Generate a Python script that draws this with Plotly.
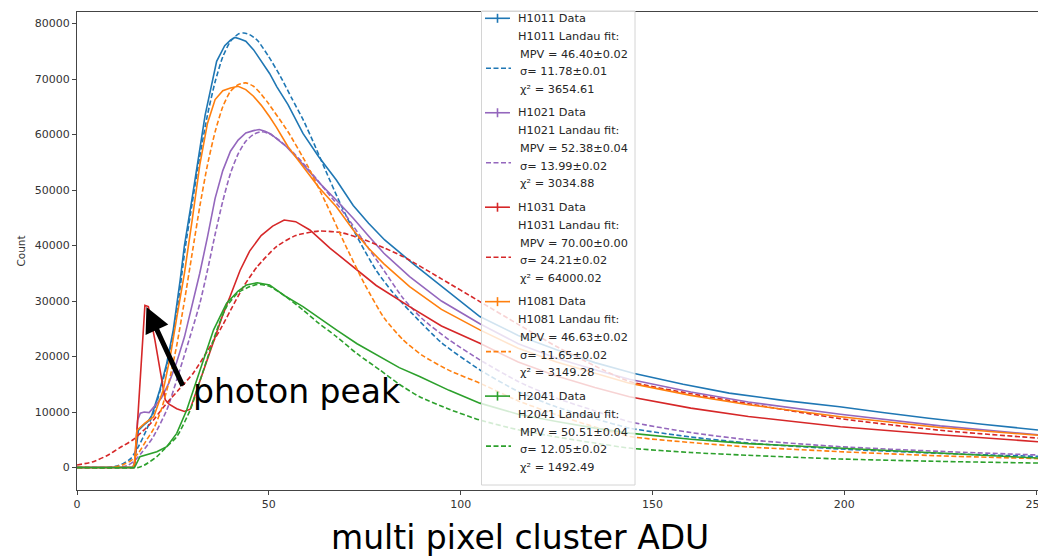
import plotly.graph_objects as go

# ---------------- data ----------------
# H1011 (blue)
h1011_x = [0, 14.6, 15.0, 16.0, 17.3, 18.5, 19.5, 20.5, 21.6, 23.4, 25.1, 26.9, 28.0, 30.0, 31.0, 33.4, 36.4, 38.5, 40.0, 41.2, 42.5, 44.0, 46.0, 48.0, 50.2, 52.1, 55.0, 58.9, 63.0, 67.6, 72.0, 76.0, 80.2, 87.5, 97.2, 105.0, 115.0, 125.0, 135.0, 145.0, 158.0, 170.0, 184.0, 198.8, 210.0, 222.0, 236.0, 250.5]
h1011_y = [0, 0, 900, 6700, 7600, 8300, 9400, 11500, 14000, 18800, 24800, 33800, 40000, 48500, 53000, 63500, 73200, 76000, 77000, 77500, 77200, 76800, 75300, 73200, 71000, 68600, 65400, 60200, 56000, 51800, 47200, 44000, 41000, 36800, 31400, 27200, 23800, 21200, 18900, 17000, 15000, 13400, 12100, 10950, 9900, 8860, 7800, 6760]
h1011_fx = [0, 8, 10, 12, 14, 16, 18, 20, 21.2, 22.5, 23.8, 26, 28.2, 30, 32, 34, 36, 38, 40, 42, 43.5, 45, 47, 50, 53, 56, 59, 62, 65, 68, 71, 74, 78, 82, 87, 95, 105, 115, 125, 135, 144, 160, 175, 199, 225, 250.5]
h1011_fy = [0, 0, 200, 700, 1600, 3750, 6600, 10000, 12700, 16000, 19400, 27800, 39500, 47500, 56000, 63500, 69500, 74000, 76800, 78100, 78300, 78000, 77000, 74000, 70500, 66500, 62600, 58000, 53200, 48500, 44200, 40300, 35500, 31800, 28000, 22500, 17600, 13700, 10900, 8800, 7100, 5500, 4400, 3330, 2550, 2000]

# H1021 (purple)
h1021_x = [0, 14.6, 15.0, 15.8, 16.5, 17.5, 18.8, 20.5, 22.0, 24.0, 26.0, 28.0, 30.0, 32.0, 34.0, 36.0, 38.0, 40.0, 42.0, 44.0, 46.0, 47.5, 49.0, 50.5, 52.5, 54.6, 58.0, 63.3, 68.0, 72.0, 76.0, 80.0, 86.7, 95.0, 105.0, 115.0, 125.0, 135.0, 144.0, 160.0, 175.0, 199.0, 225.0, 250.5]
h1021_y = [0, 0, 1000, 8500, 9800, 10000, 9900, 11200, 12500, 15300, 19000, 23500, 29000, 35000, 41500, 48500, 53500, 57000, 59000, 60300, 60700, 60900, 60600, 60100, 59000, 57800, 55300, 51200, 47900, 44900, 41700, 38600, 34400, 30000, 25900, 22300, 19700, 17600, 15900, 13600, 11800, 9600, 7500, 5900]
h1021_fx = [0, 10, 13, 15, 17, 19.9, 23.4, 26.8, 30, 32, 34, 36, 38, 40, 42, 44, 46, 48, 50, 53, 56, 60, 65, 70, 75, 80, 85, 90, 97, 105, 115, 125, 135, 144, 160, 175, 199, 225, 250.5]
h1021_fy = [0, 0, 300, 1200, 2800, 5550, 10360, 17570, 24800, 29500, 35500, 42000, 48000, 53000, 56500, 58800, 60000, 60500, 60200, 58800, 57000, 54000, 49800, 45500, 40500, 35500, 30500, 26800, 23000, 19400, 15500, 12500, 10200, 8250, 6300, 5000, 3750, 2900, 2250]

# H1031 (red)
h1031_x = [0, 14.8, 15.1, 17.7, 18.6, 20.3, 22.1, 23.0, 24.0, 26.0, 28.0, 29.5, 31.0, 33.0, 35.5, 38.0, 40.0, 42.5, 45.0, 48.0, 51.0, 54.0, 57.0, 60.7, 66.0, 71.9, 78.0, 86.7, 95.0, 105.0, 115.0, 125.0, 135.0, 144.0, 160.0, 175.0, 199.0, 225.0, 250.5]
h1031_y = [0, 0, 750, 29200, 29000, 23000, 15800, 12200, 11400, 10600, 10100, 10500, 13500, 17500, 22500, 27500, 31000, 35500, 39000, 41800, 43500, 44600, 44300, 42800, 39500, 36200, 32800, 29000, 25500, 22400, 19000, 16500, 14400, 12750, 10700, 9200, 7350, 5900, 4650]
h1031_fx = [0, 4, 8, 11, 14.6, 19, 23.4, 26.5, 30.3, 34, 37.3, 40, 43.4, 47, 52, 57, 63, 69, 75, 80, 85, 95, 105, 115, 125, 135, 144, 160, 175, 199, 225, 250.5]
h1031_fy = [450, 1000, 2200, 3500, 5000, 7800, 11600, 14000, 17000, 21000, 24800, 28300, 32600, 36200, 39800, 41800, 42600, 42300, 41000, 39600, 38000, 34000, 29900, 25800, 21800, 18300, 15500, 13300, 11500, 8800, 6700, 5300]

# H1081 (orange)
h1081_x = [0, 14.6, 15.0, 15.6, 17.7, 20.0, 22.5, 24.3, 26.0, 28.0, 30.0, 32.0, 34.0, 36.0, 38.0, 40.0, 42.0, 44.0, 46.0, 48.0, 50.2, 52.0, 55.0, 58.9, 63.0, 67.6, 72.0, 76.0, 80.0, 86.7, 95.0, 105.0, 115.0, 125.0, 135.0, 144.0, 160.0, 175.0, 199.0, 225.0, 250.5]
h1081_y = [0, 0, 900, 6700, 8000, 9150, 14000, 20000, 27000, 35000, 44500, 54500, 62000, 66300, 67900, 68400, 68700, 68100, 66900, 65300, 63200, 61300, 57800, 54200, 50500, 47000, 42800, 39500, 36700, 32600, 28500, 24800, 21500, 19000, 17000, 15200, 13000, 11300, 9150, 7200, 5800]
h1081_fx = [0, 9, 12, 14, 16, 18, 20, 22, 24, 26, 28, 30, 32, 34, 36, 38, 40, 42, 44, 46, 48, 50, 55, 60, 65, 70, 75, 80, 85, 90, 97, 105, 115, 125, 135, 144, 160, 175, 199, 225, 250.5]
h1081_fy = [0, 0, 500, 1200, 2600, 4800, 7000, 10500, 15500, 22000, 30000, 38500, 47000, 54500, 60500, 65000, 67800, 69000, 69300, 68700, 67300, 65500, 60500, 54500, 47500, 40000, 33000, 27000, 23000, 20200, 17500, 15200, 12000, 9500, 7300, 5600, 4500, 3700, 2850, 2100, 1600]

# H2041 (green)
h2041_x = [0, 15.0, 16.4, 18.0, 20.8, 23.4, 26.0, 28.6, 32.1, 35.6, 39.0, 42.0, 44.2, 47.0, 50.2, 54.0, 58.9, 63.0, 67.6, 73.0, 78.9, 84.0, 89.3, 97.0, 105.0, 115.0, 125.0, 135.0, 144.0, 160.0, 175.0, 199.0, 225.0, 250.5]
h2041_y = [0, 0, 1950, 2300, 2850, 3750, 6150, 10360, 17570, 24800, 29600, 31800, 32900, 33300, 32900, 31000, 29000, 27000, 24800, 22300, 20000, 18000, 16400, 13900, 11600, 9600, 8300, 7100, 6200, 5100, 4300, 3450, 2500, 1700]
h2041_fx = [0, 16.0, 17.5, 20.8, 23.0, 26.0, 29.5, 32.0, 34.7, 37.0, 39.0, 42.0, 45.1, 47.0, 50.0, 54.0, 58.9, 63.0, 67.6, 73.0, 78.9, 84.0, 89.3, 97.0, 105.0, 115.0, 125.0, 135.0, 144.0, 160.0, 175.0, 199.0, 225.0, 250.5]
h2041_fy = [0, 0, 400, 1950, 3500, 5550, 10360, 15500, 21200, 25800, 29000, 31500, 32600, 33000, 32700, 31000, 28400, 26000, 23600, 20500, 17600, 15000, 12760, 10500, 8560, 6800, 5500, 4400, 3500, 2700, 2200, 1530, 1100, 800]

detectors = ["H1011", "H1021", "H1031", "H1081", "H2041"]
mpv_text = ["46.40±0.02", "52.38±0.04", "70.00±0.00", "46.63±0.02", "50.51±0.04"]
sigma_text = ["11.78±0.01", "13.99±0.02", "24.21±0.02", "11.65±0.02", "12.05±0.02"]
chi2_text = ["3654.61", "3034.88", "64000.02", "3149.28", "1492.49"]
colors = ["#1f77b4", "#9467bd", "#d62728", "#ff7f0e", "#2ca02c"]

x_ticks = [0, 50, 100, 150, 200, 250]
y_ticks = [0, 10000, 20000, 30000, 40000, 50000, 60000, 70000, 80000]

series = [
    (h1011_x, h1011_y, h1011_fx, h1011_fy),
    (h1021_x, h1021_y, h1021_fx, h1021_fy),
    (h1031_x, h1031_y, h1031_fx, h1031_fy),
    (h1081_x, h1081_y, h1081_fx, h1081_fy),
    (h2041_x, h2041_y, h2041_fx, h2041_fy),
]

# ---------------- figure ----------------
W, H = 1038, 558
L, R, T, B = 77, 1038, 12, 490


def pxx(v):
    return (v - L) / (R - L)


def pxy(v):
    return (B - v) / (B - T)


fig = go.Figure()
for name, col, (dx, dy, fx, fy) in zip(detectors, colors, series):
    fig.add_trace(go.Scatter(x=dx, y=dy, mode="lines", name=name + " Data",
                             line=dict(color=col, width=1.6)))
    fig.add_trace(go.Scatter(x=fx, y=fy, mode="lines", name=name + " Landau fit",
                             line=dict(color=col, width=1.6, dash="5px,2.5px",
                                       shape="spline", smoothing=0.6)))

tickfont = dict(family="DejaVu Sans", size=11, color="#333333")
fig.update_layout(
    width=W, height=H,
    margin=dict(l=L, r=W - R, t=T, b=H - B, autoexpand=False),
    paper_bgcolor="white", plot_bgcolor="white",
    showlegend=False,
    xaxis=dict(range=[0, 250.5], tickvals=x_ticks, ticks="outside", ticklen=4,
               tickcolor="#444", showline=True, linecolor="#444", linewidth=1,
               mirror=True, showgrid=False, zeroline=False, tickfont=tickfont,
               ticklabeloverflow="allow", automargin=False),
    yaxis=dict(range=[-4055, 82080], tickvals=y_ticks, tickformat="d", ticks="outside",
               ticklen=4, tickcolor="#444", showline=True, linecolor="#444", linewidth=1,
               showgrid=False, zeroline=False, tickfont=tickfont, automargin=False,
               title=dict(text="Count", font=dict(family="DejaVu Sans", size=10.5, color="#333"),
                          standoff=7)),
)

shapes = []
annotations = []

# legend box
shapes.append(dict(type="rect", xref="paper", yref="paper", layer="above",
                   x0=pxx(481.5), x1=pxx(635), y0=pxy(485), y1=pxy(11),
                   fillcolor="rgba(255,255,255,0.8)", line=dict(color="#d4d4d4", width=1)))

legfont = dict(family="DejaVu Sans", size=11.3, color="#262626")
for i, (name, col) in enumerate(zip(detectors, colors)):
    y0 = 18.3 + i * 94.45
    # data handle
    shapes.append(dict(type="line", xref="paper", yref="paper", layer="above",
                       x0=pxx(485), x1=pxx(510), y0=pxy(y0), y1=pxy(y0),
                       line=dict(color=col, width=1.6)))
    shapes.append(dict(type="line", xref="paper", yref="paper", layer="above",
                       x0=pxx(497.5), x1=pxx(497.5), y0=pxy(y0 - 4.5), y1=pxy(y0 + 4.5),
                       line=dict(color=col, width=1.6)))
    # fit handle
    shapes.append(dict(type="line", xref="paper", yref="paper", layer="above",
                       x0=pxx(486), x1=pxx(511), y0=pxy(y0 + 50), y1=pxy(y0 + 50),
                       line=dict(color=col, width=1.6, dash="5px,2.5px")))
    lines = [
        (0, 516, name + " Data"),
        (18, 516, name + " Landau fit:"),
        (36, 518, "MPV = " + mpv_text[i]),
        (53.5, 518, "σ= " + sigma_text[i]),
        (71, 518, "χ² = " + chi2_text[i]),
    ]
    for dyo, xp, txt in lines:
        annotations.append(dict(xref="paper", yref="paper", x=pxx(xp), y=pxy(y0 + dyo),
                                text=txt, showarrow=False, xanchor="left", yanchor="middle",
                                font=legfont))

# photon peak arrow pointing at the red low-energy peak
low = [k for k in range(len(h1031_x)) if h1031_x[k] < 25]
ipk = max(low, key=lambda k: h1031_y[k])
annotations.append(dict(x=h1031_x[ipk] + 0.4, y=h1031_y[ipk] - 300, xref="x", yref="y",
                        text="", showarrow=True, arrowhead=2, arrowsize=1, arrowwidth=5,
                        arrowcolor="black", ax=37, ay=80, standoff=0))
annotations.append(dict(xref="paper", yref="paper", x=pxx(191), y=pxy(391.5),
                        text="photon peak", showarrow=False, xanchor="left", yanchor="middle",
                        font=dict(family="DejaVu Sans", size=33, color="black")))
annotations.append(dict(xref="paper", yref="paper", x=pxx(520), y=pxy(537),
                        text="multi pixel cluster ADU", showarrow=False, xanchor="center",
                        yanchor="middle",
                        font=dict(family="DejaVu Sans", size=33, color="black")))

fig.update_layout(shapes=shapes, annotations=annotations)
fig.write_html("out.html")
